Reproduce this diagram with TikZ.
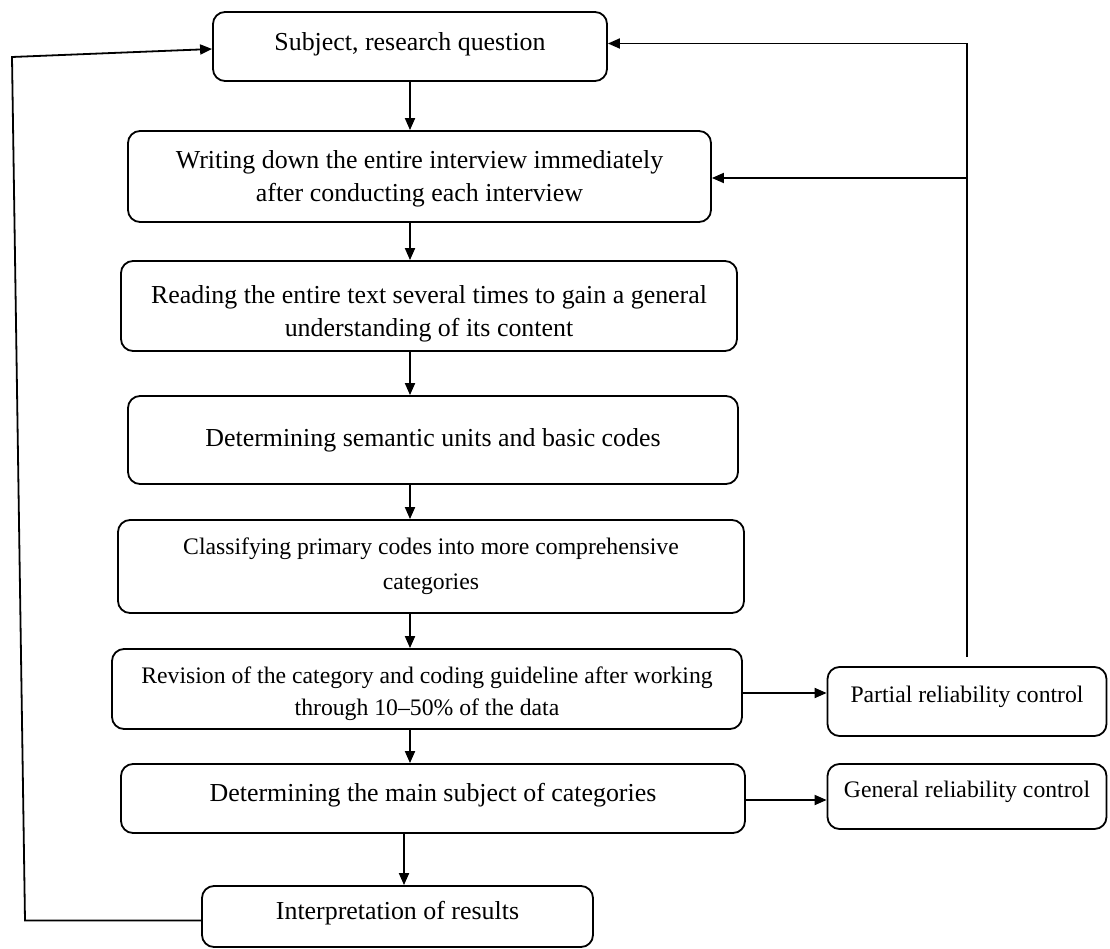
\documentclass[tikz,border=0pt]{standalone}
\usepackage{fontspec}
\setmainfont{Liberation Serif}
\usetikzlibrary{arrows.meta}
\begin{document}
\begin{tikzpicture}[x=1pt,y=-1pt,
  box/.style={draw, line width=1.8pt, rounded corners=12pt, inner sep=0pt, align=center,
    font=\fontsize{25.9}{33}\selectfont},
  small/.style={font=\fontsize{23.7}{33}\selectfont},
  arr/.style={line width=1.8pt, -{Triangle[length=12pt,width=10pt]}},
  up/.style={text height=18pt, text depth=#1}]
\useasboundingbox (0,0) rectangle (1110,949);
\fill[white] (0,0) rectangle (1110,949);

\node[box, up=10pt, minimum width=394, minimum height=69] (b1) at (410,46.5) {Subject, research question};
\node[box, minimum width=583, minimum height=91] (b2) at (419.5,176.5)
  {\rule{0pt}{23pt}Writing down the entire interview immediately\\ after conducting each interview};
\node[box, minimum width=616, minimum height=90] (b3) at (429,306)
  {\rule{0pt}{34pt}Reading the entire text several times to gain a general\\ understanding of its content};
\node[box, minimum width=610, minimum height=88] (b4) at (433,440)
  {Determining semantic units and basic codes};
\node[box, small, font=\fontsize{23.7}{35}\selectfont, minimum width=626, minimum height=93] (b5) at (431,566.5)
  {Classifying primary codes into more comprehensive\\ categories\rule[-4pt]{0pt}{4pt}};
\node[box, small, font=\fontsize{23.7}{32}\selectfont, minimum width=630, minimum height=80] (b6) at (427,689)
  {\rule{0pt}{26pt}Revision of the category and coding guideline after working\\ through 10–50\% of the data};
\node[box, up=13pt, minimum width=624, minimum height=69] (b7) at (433,798.5)
  {Determining the main subject of categories};
\node[box, up=13pt, minimum width=391, minimum height=61] (b8) at (397.5,916.5)
  {Interpretation of results};
\node[box, small, up=16pt, minimum width=279, minimum height=69] (P) at (967,701.5)
  {Partial reliability control};
\node[box, small, up=16pt, minimum width=279, minimum height=65] (G) at (967,796.5)
  {General reliability control};

\coordinate (ax) at (410,0);
\coordinate (ax8) at (404,0);
\coordinate (l1) at (25,920.5);
\coordinate (l2) at (12,57);

\draw[arr] (b1.south -| ax) -- (b2.north -| ax);
\draw[arr] (b2.south -| ax) -- (b3.north -| ax);
\draw[arr] (b3.south -| ax) -- (b4.north -| ax);
\draw[arr] (b4.south -| ax) -- (b5.north -| ax);
\draw[arr] (b5.south -| ax) -- (b6.north -| ax);
\draw[arr] (b6.south -| ax) -- (b7.north -| ax);
\draw[arr] (b7.south -| ax8) -- (b8.north -| ax8);

\draw[arr] ([yshift=-4pt]b6.east) -- ([yshift=-4pt]b6.east -| P.west);
\draw[arr] ([yshift=-1.5pt]b7.east) -- ([yshift=-1.5pt]b7.east -| G.west);

\draw[arr] ([yshift=9pt]P.north) |- ([yshift=3pt]b1.east);
\draw[arr] ([yshift=-1.5pt]b2.east -| P.north) -- ([yshift=-1.5pt]b2.east);

\draw[arr] ([yshift=-4pt]b8.west) -- (l1) -- (l2) -- ([yshift=-2.5pt]b1.west);
\end{tikzpicture}
\end{document}
